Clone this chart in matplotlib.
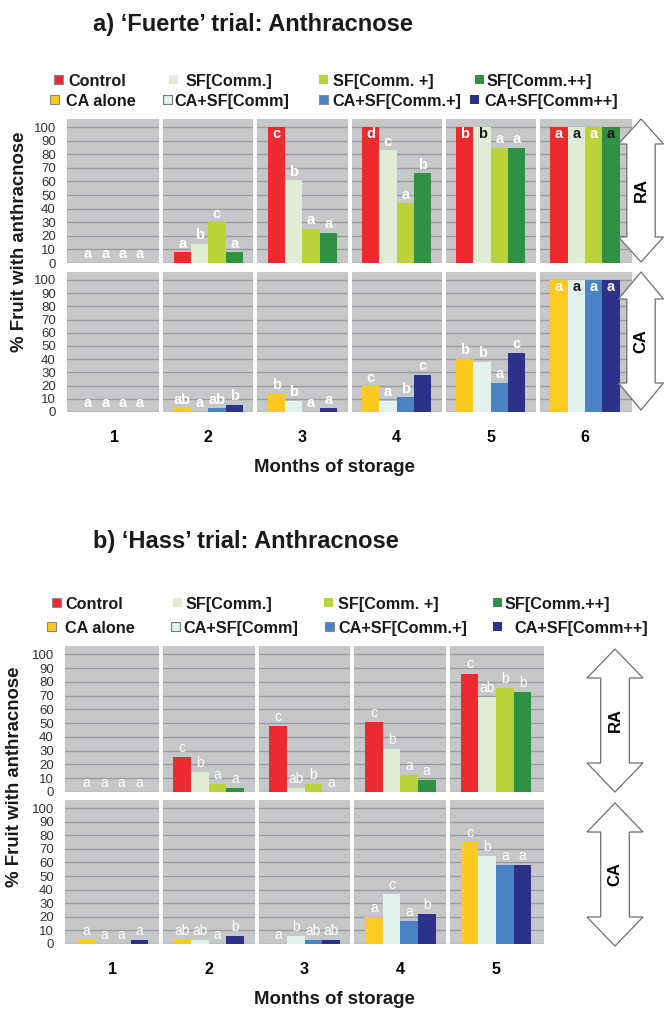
import numpy as np
import matplotlib
matplotlib.use('Agg')
import matplotlib.pyplot as plt
from matplotlib.patches import Polygon, Rectangle

plt.rcParams['font.family'] = ['Liberation Sans', 'DejaVu Sans']

# ---- data ----
ra_labels = ['Control', 'SF[Comm.]', 'SF[Comm. +]', 'SF[Comm.++]']
ca_labels = ['CA alone', 'CA+SF[Comm]', 'CA+SF[Comm.+]', 'CA+SF[Comm++]']
ra_colors = ['#ec2a30', '#dfedd4', '#bcd23a', '#2f9144']
ca_colors = ['#fcc91e', '#e1f2ef', '#4a83c5', '#2c3289']

months_fuerte = [1, 2, 3, 4, 5, 6]
months_hass = [1, 2, 3, 4, 5]

# 'Fuerte' RA
fuerte_control = [0, 8, 100, 100, 100, 100]
fuerte_sf = [0, 14, 61, 83, 100, 100]
fuerte_sfp = [0, 30, 25, 44, 85, 100]
fuerte_sfpp = [0, 8, 22, 66, 85, 100]
fuerte_ra_letters = [['a', 'a', 'c', 'd', 'b', 'a'],
                     ['a', 'b', 'b', 'c', 'b', 'a'],
                     ['a', 'c', 'a', 'a', 'a', 'a'],
                     ['a', 'a', 'a', 'b', 'a', 'a']]
fuerte_ra_dark = [(1, 4), (1, 5), (3, 5)]

# 'Fuerte' CA
fuerte_ca_alone = [0, 2.8, 13.8, 19.6, 40.5, 100]
fuerte_ca_sf = [0, 0, 8.5, 8.5, 38, 100]
fuerte_ca_sfp = [0, 2.8, 0, 11, 22, 100]
fuerte_ca_sfpp = [0, 5.5, 2.8, 28, 45, 100]
fuerte_ca_letters = [['a', 'ab', 'b', 'c', 'b', 'a'],
                     ['a', 'a', 'b', 'a', 'b', 'a'],
                     ['a', 'ab', 'a', 'b', 'a', 'a'],
                     ['a', 'b', 'a', 'c', 'c', 'a']]
fuerte_ca_dark = [(1, 5)]

# 'Hass' RA
hass_control = [0, 25.6, 47.8, 50.7, 86]
hass_sf = [0, 14.5, 3, 31, 69]
hass_sfp = [0, 6, 6, 12, 75.6]
hass_sfpp = [0, 3, 0, 8.7, 72.7]
hass_ra_letters = [['a', 'c', 'c', 'c', 'c'],
                   ['a', 'b', 'ab', 'b', 'ab'],
                   ['a', 'a', 'b', 'a', 'b'],
                   ['a', 'a', 'a', 'a', 'b']]

# 'Hass' CA
hass_ca_alone = [2.9, 2.9, 0, 19.9, 75]
hass_ca_sf = [0, 2.9, 5.8, 36.6, 65]
hass_ca_sfp = [0, 0, 2.9, 16.7, 58.4]
hass_ca_sfpp = [2.9, 5.8, 2.9, 22, 58.4]
hass_ca_letters = [['a', 'ab', 'a', 'a', 'c'],
                   ['a', 'ab', 'b', 'c', 'b'],
                   ['a', 'a', 'ab', 'a', 'a'],
                   ['a', 'b', 'ab', 'b', 'a']]

W, H = 666, 1011
fig = plt.figure(figsize=(W / 100, H / 100), dpi=100)
BG = '#c6c7c9'
GRID = '#9a9b9f'


def fx(x):
    return x / W


def fy(y):
    return 1 - y / H


def ax_at(x0, y0, x1, y1):
    return fig.add_axes([fx(x0), fy(y1), (x1 - x0) / W, (y1 - y0) / H])


def draw_panel(ax, months, series, letters, colors, dark, lsize, lweight, off, bottom):
    width = 0.184
    for i, (vals, lets, col) in enumerate(zip(series, letters, colors)):
        x = np.array(months) + (i - 1.5) * width
        ax.bar(x, vals, width, color=col, zorder=2, linewidth=0)
        for j, (xx, v, t) in enumerate(zip(x, vals, lets)):
            c = '#1a1a1a' if (i, j) in dark else 'white'
            if v >= 95:
                ax.text(xx, 100, t, ha='center', va='top', color=c,
                        fontsize=lsize, fontweight=lweight, zorder=4)
            else:
                ax.text(xx, v + off, t, ha='center', va='bottom', color=c,
                        fontsize=lsize, fontweight=lweight, zorder=4)
    for m in months[:-1]:
        ax.axvline(m + 0.5, color='white', lw=2.9, zorder=3)
    ax.set_xlim(months[0] - 0.5, months[-1] + 0.5)
    ax.set_ylim(0, 106)
    ax.set_facecolor(BG)
    ax.set_yticks(range(0, 101, 10))
    ax.yaxis.grid(True, color=GRID, lw=1.0)
    ax.set_axisbelow(True)
    for s in ax.spines.values():
        s.set_visible(False)
    ax.tick_params(axis='y', length=0, pad=8, labelsize=9.5, labelcolor='#333333')
    ax.tick_params(axis='x', length=0)
    if bottom:
        ax.set_xticks(months)
        ax.set_xticklabels([str(m) for m in months], fontsize=11.5, fontweight='bold')
        ax.tick_params(axis='x', pad=13)
    else:
        ax.set_xticks([])


def draw_arrow(cx, top, bot, hw, sw, hl, label):
    pts = [(cx, top), (cx + hw, top + hl), (cx + sw, top + hl), (cx + sw, bot - hl),
           (cx + hw, bot - hl), (cx, bot), (cx - hw, bot - hl), (cx - sw, bot - hl),
           (cx - sw, top + hl), (cx - hw, top + hl)]
    pts = [(fx(a), fy(b)) for a, b in pts]
    fig.add_artist(Polygon(pts, closed=True, facecolor='white', edgecolor='#6f6f6f',
                           lw=0.9, transform=fig.transFigure, zorder=10))
    fig.text(fx(cx), fy((top + bot) / 2), label, rotation=90, ha='center', va='center',
             fontsize=12, fontweight='bold', zorder=11)


def draw_legend(labels, colors, sq_x, txt_x, yc, edge):
    for lab, col, sx, tx, e in zip(labels, colors, sq_x, txt_x, edge):
        fig.add_artist(Rectangle((fx(sx), fy(yc + 4)), 9 / W, 9 / H, facecolor=col,
                                 edgecolor=e, lw=0.8, transform=fig.transFigure))
        fig.text(fx(tx), fy(yc + 6), lab, ha='left', va='baseline',
                 fontsize=11.7, fontweight='bold', color='#1a1a1a')


# ---- a) Fuerte ----
fig.text(fx(93), fy(31), "a) \u2018Fuerte\u2019 trial: Anthracnose", fontsize=17,
         fontweight='bold', va='baseline', color='#1a1a1a')
draw_legend(ra_labels, ra_colors, [54, 169, 319, 475], [68, 186, 333, 487], 80,
            ['#8a8a8a', 'none', 'none', 'none'])
draw_legend(ca_labels, ca_colors, [50, 163, 319, 470], [66, 174, 332, 484], 100,
            ['#8a8a8a', '#7a7a7a', '#8a8a8a', 'none'])

ax1 = ax_at(67, 119, 632, 263)
draw_panel(ax1, months_fuerte, [fuerte_control, fuerte_sf, fuerte_sfp, fuerte_sfpp],
           fuerte_ra_letters, ra_colors, fuerte_ra_dark, 10.5, 'bold', 1.2, False)
ax2 = ax_at(67, 272, 632, 412)
draw_panel(ax2, months_fuerte, [fuerte_ca_alone, fuerte_ca_sf, fuerte_ca_sfp, fuerte_ca_sfpp],
           fuerte_ca_letters, ca_colors, fuerte_ca_dark, 10.5, 'bold', 1.2, True)
fig.text(fx(20), fy(242), '% Fruit with anthracnose', rotation=90, ha='center', va='center',
         fontsize=13.4, fontweight='bold', color='#1a1a1a')
fig.text(fx(334), fy(467), 'Months of storage', ha='center', va='center',
         fontsize=13.4, fontweight='bold', color='#1a1a1a')
draw_arrow(641, 119, 262, 22.5, 14.2, 25, 'RA')
draw_arrow(641, 272, 410, 22.5, 14.2, 27, 'CA')

# ---- b) Hass ----
fig.text(fx(93), fy(548), "b) \u2018Hass\u2019 trial: Anthracnose", fontsize=17,
         fontweight='bold', va='baseline', color='#1a1a1a')
draw_legend(ra_labels, ra_colors, [52, 173, 324, 493], [65, 186, 338, 505], 603,
            ['#8a8a8a', 'none', 'none', 'none'])
draw_legend(ca_labels, ca_colors, [47, 171, 325, 493], [65, 183, 338, 514], 627,
            ['#8a8a8a', '#7a7a7a', '#8a8a8a', 'none'])

ax3 = ax_at(65, 646, 544, 792)
draw_panel(ax3, months_hass, [hass_control, hass_sf, hass_sfp, hass_sfpp],
           hass_ra_letters, ra_colors, [], 10, 'normal', 1.5, False)
ax4 = ax_at(65, 800, 544, 944)
draw_panel(ax4, months_hass, [hass_ca_alone, hass_ca_sf, hass_ca_sfp, hass_ca_sfpp],
           hass_ca_letters, ca_colors, [], 10, 'normal', 1.5, True)
fig.text(fx(15), fy(777), '% Fruit with anthracnose', rotation=90, ha='center', va='center',
         fontsize=13.4, fontweight='bold', color='#1a1a1a')
fig.text(fx(334), fy(1000), 'Months of storage', ha='center', va='center',
         fontsize=13.4, fontweight='bold', color='#1a1a1a')
draw_arrow(615, 649, 792, 28, 14.3, 29, 'RA')
draw_arrow(615, 803, 946, 28, 14.3, 29, 'CA')

fig.savefig('out.png', dpi=100)
